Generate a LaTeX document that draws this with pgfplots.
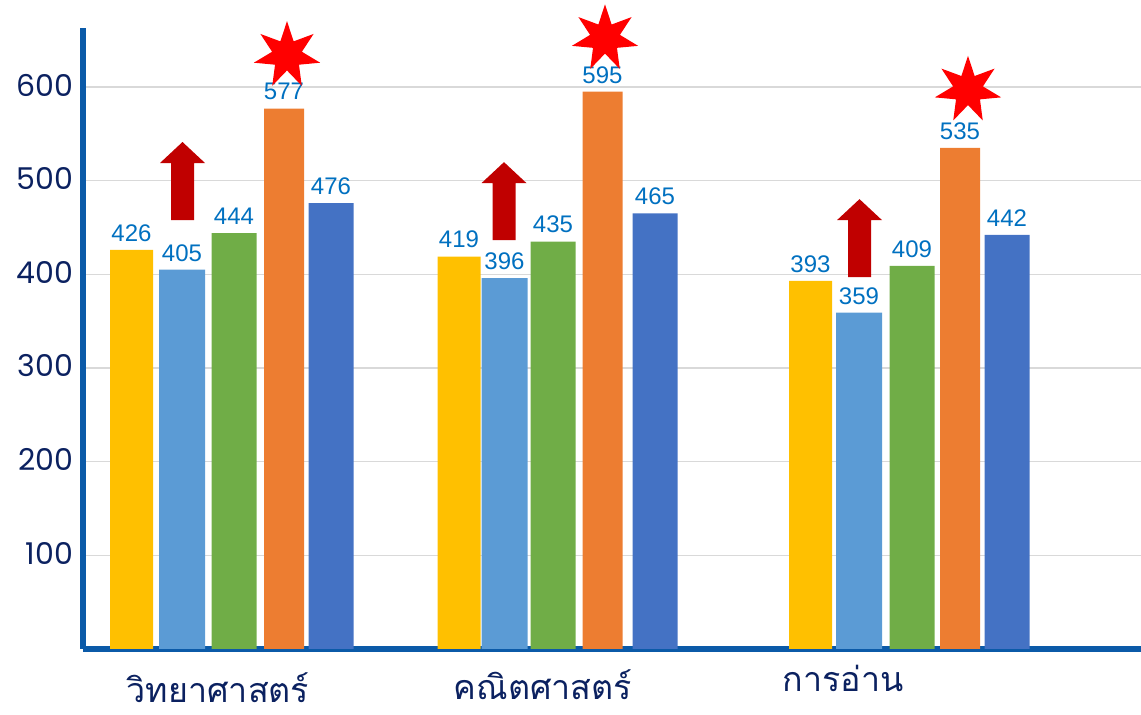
\documentclass[border=0pt]{standalone}
\usepackage{pgfplots}
\pgfplotsset{compat=1.18}
\usepackage{fontspec}
\setmainfont{Liberation Sans}
\newfontfamily\thaifont[Script=Thai]{Loma}
\newfontfamily\numfont{Poppins}

\definecolor{cyellow}{HTML}{FFC000}
\definecolor{clblue}{HTML}{5B9BD5}
\definecolor{cgreen}{HTML}{70AD47}
\definecolor{corange}{HTML}{ED7D31}
\definecolor{cblue}{HTML}{4472C4}
\definecolor{arrowred}{HTML}{C00000}
\definecolor{starred}{HTML}{FF0000}
\definecolor{axisblue}{HTML}{0B5AA8}
\definecolor{navy}{HTML}{0B2160}
\definecolor{lbl}{HTML}{0070C0}

% seven pointed star
\pgfdeclareplotmark{burst}{%
  \pgfpathmoveto{\pgfpointpolar{90}{\pgfplotmarksize}}%
  \pgfpathlineto{\pgfpointpolar{115.714}{0.45\pgfplotmarksize}}%
  \pgfpathlineto{\pgfpointpolar{141.429}{\pgfplotmarksize}}%
  \pgfpathlineto{\pgfpointpolar{167.143}{0.45\pgfplotmarksize}}%
  \pgfpathlineto{\pgfpointpolar{192.857}{\pgfplotmarksize}}%
  \pgfpathlineto{\pgfpointpolar{218.571}{0.45\pgfplotmarksize}}%
  \pgfpathlineto{\pgfpointpolar{244.286}{\pgfplotmarksize}}%
  \pgfpathlineto{\pgfpointpolar{270}{0.45\pgfplotmarksize}}%
  \pgfpathlineto{\pgfpointpolar{295.714}{\pgfplotmarksize}}%
  \pgfpathlineto{\pgfpointpolar{321.429}{0.45\pgfplotmarksize}}%
  \pgfpathlineto{\pgfpointpolar{347.143}{\pgfplotmarksize}}%
  \pgfpathlineto{\pgfpointpolar{12.857}{0.45\pgfplotmarksize}}%
  \pgfpathlineto{\pgfpointpolar{38.571}{\pgfplotmarksize}}%
  \pgfpathlineto{\pgfpointpolar{64.286}{0.45\pgfplotmarksize}}%
  \pgfpathclose\pgfusepathqfill}

% block arrow, anchored at the bottom of its shaft
\pgfdeclareplotmark{uparrow}{%
  \pgfpathmoveto{\pgfpoint{-5.75pt}{0pt}}%
  \pgfpathlineto{\pgfpoint{-5.75pt}{28.5pt}}%
  \pgfpathlineto{\pgfpoint{-11.25pt}{28.5pt}}%
  \pgfpathlineto{\pgfpoint{0pt}{39pt}}%
  \pgfpathlineto{\pgfpoint{11.25pt}{28.5pt}}%
  \pgfpathlineto{\pgfpoint{5.75pt}{28.5pt}}%
  \pgfpathlineto{\pgfpoint{5.75pt}{0pt}}%
  \pgfpathclose\pgfusepathqfill}

\begin{document}
\begin{tikzpicture}
\useasboundingbox (-41.5pt,-33pt) rectangle (529pt,324.5pt);
\begin{axis}[
  scale only axis,
  width=529pt, height=310.5pt,
  xmin=83, xmax=1141, ymin=0, ymax=663,
  clip=false,
  axis x line*=bottom, axis y line*=left,
  axis line style={draw=axisblue, line width=2.6pt},
  major tick length=0pt,
  ytick={100,200,300,400,500,600},
  ymajorgrids,
  major grid style={draw=black!15, line width=0.8pt},
  xtick={218,543,843},
  xticklabels={วิทยาศาสตร์, \raisebox{1.5pt}{คณิตศาสตร์}, \raisebox{5.5pt}{การอ่าน}},
  /pgf/number format/assume math mode=true,
  yticklabel style={font=\numfont\fontsize{15}{15}\selectfont, color=navy,
    anchor=east, xshift=-1.5pt, yshift=1pt},
  xticklabel style={font=\thaifont\fontsize{17}{17}\selectfont, color=navy,
    anchor=base, yshift=-27pt},
  every node near coord/.append style={font=\fontsize{12}{12}\selectfont,
    color=lbl, inner sep=2.5pt, yshift=1.5pt},
]
\addplot[ybar, bar width=43, bar shift=0pt, fill=cyellow, draw=none, nodes near coords]
  coordinates {(131.5,426) (459,419) (810.5,393)};
\addplot[ybar, bar width=46, bar shift=0pt, fill=clblue, draw=none, nodes near coords]
  coordinates {(182,405) (504.5,396) (859,359)};
\addplot[ybar, bar width=45, bar shift=0pt, fill=cgreen, draw=none, nodes near coords]
  coordinates {(234,444) (553,435) (912,409)};
\addplot[ybar, bar width=40, bar shift=0pt, fill=corange, draw=none, nodes near coords]
  coordinates {(284,577) (602.5,595) (960,535)};
\addplot[ybar, bar width=45, bar shift=0pt, fill=cblue, draw=none, nodes near coords]
  coordinates {(331,476) (655,465) (1007,442)};

% annotations
\addplot[only marks, mark=uparrow, mark options={fill=arrowred, draw=none}]
  coordinates {(182.5,458) (504,436.5) (859.5,397)};
\addplot[only marks, mark=burst, mark size=17pt, mark options={fill=starred, draw=none}]
  coordinates {(287,634) (605,652) (968,597)};
\end{axis}
\end{tikzpicture}
\end{document}
